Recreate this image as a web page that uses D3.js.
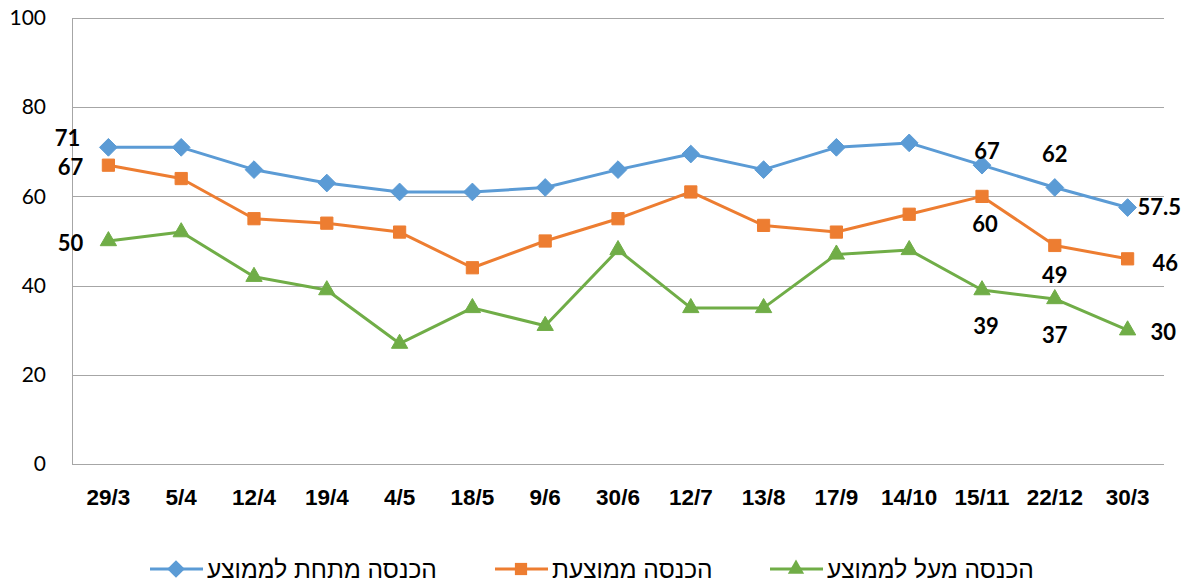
<!DOCTYPE html>
<html lang="he">
  <head>
    <meta charset="UTF-8" />
    <title>Income chart</title>
    <style>
      body { margin: 0; background: #fff; }
      svg { display: block; }
    </style>
  </head>
  <body>
    <svg id="chart"></svg>
    <script src="https://d3js.org/d3.v7.min.js"></script>
    <script>
      const dates = ["29/3", "5/4", "12/4", "19/4", "4/5", "18/5", "9/6", "30/6", "12/7", "13/8", "17/9", "14/10", "15/11", "22/12", "30/3"];
      const belowAvg = [71, 71, 66, 63, 61, 61, 62, 66, 69.5, 66, 71, 72, 67, 62, 57.5];
      const avg = [67, 64, 55, 54, 52, 44, 50, 55, 61, 53.5, 52, 56, 60, 49, 46];
      const aboveAvg = [50, 52, 42, 39, 27, 35, 31, 48, 35, 35, 47, 48, 39, 37, 30];
      const yTicks = [0, 20, 40, 60, 80, 100];
      const seriesNames = ["הכנסה מתחת לממוצע", "הכנסה ממוצעת", "הכנסה מעל לממוצע"];

      // labelled points: [index, dx, dy, anchor] (offset of label centre from the marker)
      const blueLabels = [[0, -28, -9, "end"], [12, 5, -14, "middle"], [13, 0, -33, "middle"], [14, 10, 0, "start"]];
      const orangeLabels = [[0, -25, 2, "end"], [12, 3, 28, "middle"], [13, 0, 30, "middle"], [14, 25, 4, "start"]];
      const greenLabels = [[0, -25, 2, "end"], [12, 4, 36, "middle"], [13, 0, 36, "middle"], [14, 23, 2, "start"]];

      const width = 1188, height = 583;
      const plot = { left: 72, right: 1164, top: 18, bottom: 464 };

      const svg = d3.select("#chart").attr("width", width).attr("height", height);

      const x = d3.scaleBand().domain(d3.range(dates.length)).range([plot.left, plot.right]);
      const y = d3.scaleLinear().domain([0, 100]).range([plot.bottom, plot.top]);
      const cx = (i) => x(i) + x.bandwidth() / 2;

      // gridlines
      svg.append("g")
        .selectAll("line")
        .data(yTicks)
        .join("line")
        .attr("x1", plot.left)
        .attr("x2", plot.right)
        .attr("y1", (d) => Math.round(y(d)) + 0.5)
        .attr("y2", (d) => Math.round(y(d)) + 0.5)
        .attr("stroke", "#a6a6a6")
        .attr("stroke-width", 1);

      svg.append("line")
        .attr("x1", plot.left + 0.5).attr("x2", plot.left + 0.5)
        .attr("y1", plot.top).attr("y2", plot.bottom)
        .attr("stroke", "#a6a6a6");

      const yAxis = d3.axisLeft(y).tickValues(yTicks).tickSize(0).tickPadding(26);
      svg.append("g")
        .attr("transform", `translate(${plot.left},0)`)
        .call(yAxis)
        .call((g) => g.select(".domain").remove())
        .selectAll("text")
        .attr("font-family", "Lato, 'Open Sans', sans-serif")
        .attr("font-size", 21)
        .attr("fill", "#000");

      const xAxis = d3.axisBottom(x).tickFormat((i) => dates[i]).tickSize(0).tickPadding(25);
      svg.append("g")
        .attr("transform", `translate(0,${plot.bottom})`)
        .call(xAxis)
        .call((g) => g.select(".domain").remove())
        .selectAll("text")
        .attr("font-family", "'Liberation Sans', Arial, sans-serif")
        .attr("font-weight", "bold")
        .attr("font-size", 22.5)
        .attr("fill", "#000");

      const series = [
        { values: belowAvg, color: "#5b9bd5", marker: d3.symbolDiamond2, size: 200, labels: blueLabels },
        { values: avg, color: "#ed7d31", marker: d3.symbolSquare2, size: 190, labels: orangeLabels },
        { values: aboveAvg, color: "#70ad47", marker: d3.symbolTriangle2, size: 190, labels: greenLabels },
      ];

      const line = d3.line().x((d, i) => cx(i)).y((d) => y(d));

      series.forEach((s) => {
        svg.append("path")
          .datum(s.values)
          .attr("fill", "none")
          .attr("stroke", s.color)
          .attr("stroke-width", 3)
          .attr("stroke-linejoin", "round")
          .attr("d", line);

        svg.append("g")
          .selectAll("path")
          .data(s.values)
          .join("path")
          .attr("transform", (d, i) => `translate(${cx(i)},${y(d)})`)
          .attr("d", d3.symbol(s.marker, s.size))
          .attr("fill", s.color)
          .attr("stroke", s.color)
          .attr("stroke-width", 1);

        svg.append("g")
          .selectAll("text")
          .data(s.labels)
          .join("text")
          .attr("x", ([i, dx]) => cx(i) + dx)
          .attr("y", ([i, , dy]) => y(s.values[i]) + dy)
          .attr("dy", "0.35em")
          .attr("text-anchor", (d) => d[3])
          .attr("font-family", "Lato, 'Open Sans', sans-serif")
          .attr("font-weight", "bold")
          .attr("font-size", 22)
          .attr("fill", "#000")
          .text(([i]) => s.values[i]);
      });

      // legend
      const legendX = [150, 495, 770];
      const legend = svg.append("g").attr("transform", "translate(0,569)");
      series.forEach((s, k) => {
        const g = legend.append("g").attr("transform", `translate(${legendX[k]},0)`);
        g.append("line").attr("x1", 0).attr("x2", 53).attr("stroke", s.color).attr("stroke-width", 3);
        g.append("path").attr("transform", "translate(26,0)").attr("d", d3.symbol(s.marker, s.size)).attr("fill", s.color);
        g.append("text")
          .attr("x", 57)
          .attr("dy", "0.35em")
          .attr("direction", "rtl")
          .attr("text-anchor", "end")
          .attr("font-family", "'Liberation Sans', Arial, sans-serif")
          .attr("font-size", 24.5)
          .attr("fill", "#000")
          .text(seriesNames[k]);
      });
    </script>
  </body>
</html>
